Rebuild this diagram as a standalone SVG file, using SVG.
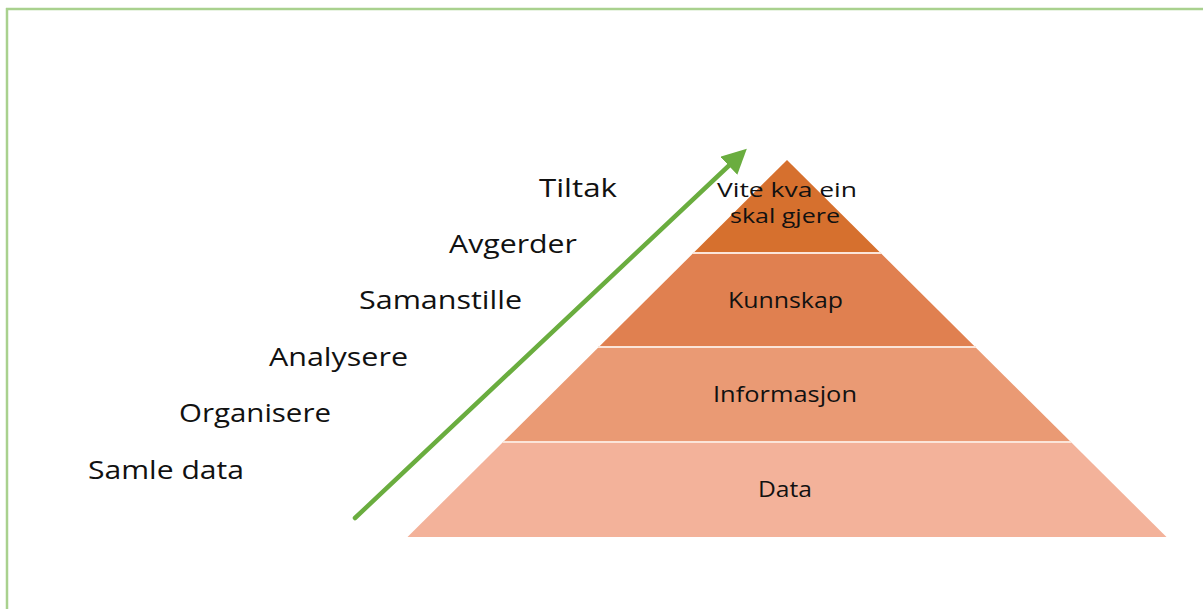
<svg xmlns="http://www.w3.org/2000/svg" width="1203" height="609" viewBox="0 0 1203 609">
  <style>
    .lbl { font-family: "Open Sans", "Noto Sans", "DejaVu Sans", sans-serif; font-size: 25px; fill: #111; }
    .pt { font-family: "Open Sans", "Noto Sans", "DejaVu Sans", sans-serif; font-size: 21px; fill: #111; text-anchor: middle; }
    .pt2 { font-family: "Open Sans", "Noto Sans", "DejaVu Sans", sans-serif; font-size: 20px; fill: #111; text-anchor: middle; }
    .frame { stroke: #a9d18e; stroke-width: 2.5; fill: none; }
    .gap { stroke: #fbe5d9; stroke-width: 2; }
  </style>
  <defs>
    <marker id="ah" markerWidth="5.5" markerHeight="5.5" refX="2.5" refY="2.75" orient="auto" markerUnits="strokeWidth">
      <path d="M0,0 L5.5,2.75 L0,5.5 Z" fill="#6aad3f"/>
    </marker>
  </defs>
  <rect width="1203" height="609" fill="#ffffff"/>
  <g id="frame">
    <line class="frame" x1="6" y1="9" x2="1203" y2="9"/>
    <line class="frame" x1="7" y1="8" x2="7" y2="609"/>
  </g>
  <g id="labels">
    <text id="t-tiltak" class="lbl" x="539" y="197" textLength="78" lengthAdjust="spacingAndGlyphs">Tiltak</text>
    <text id="t-avgerder" class="lbl" x="449" y="253" textLength="128" lengthAdjust="spacingAndGlyphs">Avgerder</text>
    <text id="t-samanstille" class="lbl" x="359" y="309" textLength="163" lengthAdjust="spacingAndGlyphs">Samanstille</text>
    <text id="t-analysere" class="lbl" x="269" y="366" textLength="139" lengthAdjust="spacingAndGlyphs">Analysere</text>
    <text id="t-organisere" class="lbl" x="179" y="422" textLength="152" lengthAdjust="spacingAndGlyphs">Organisere</text>
    <text id="t-samle" class="lbl" x="88" y="479" textLength="156" lengthAdjust="spacingAndGlyphs">Samle data</text>
  </g>
  <g id="pyramid">
    <g id="layer-data">
      <polygon points="503.1,442 1070.9,442 1166.5,537 407.5,537" fill="#f3b29a"/>
      <text class="pt" x="785" y="497" textLength="54" lengthAdjust="spacingAndGlyphs">Data</text>
    </g>
    <g id="layer-informasjon">
      <polygon points="598.8,347 975.2,347 1070.9,442 503.1,442" fill="#ea9a74"/>
      <text class="pt" x="785" y="402" textLength="144" lengthAdjust="spacingAndGlyphs">Informasjon</text>
    </g>
    <g id="layer-kunnskap">
      <polygon points="693.4,253 880.6,253 975.2,347 598.8,347" fill="#e08050"/>
      <text class="pt" x="785.5" y="308" textLength="115" lengthAdjust="spacingAndGlyphs">Kunnskap</text>
    </g>
    <g id="layer-vite">
      <polygon points="787,160 880.6,253 693.4,253" fill="#d6702e"/>
      <text class="pt2" x="787" y="197" textLength="140" lengthAdjust="spacingAndGlyphs">Vite kva ein</text>
      <text class="pt2" x="785" y="223" textLength="110" lengthAdjust="spacingAndGlyphs">skal gjere</text>
    </g>
    <g id="gaps">
      <line class="gap" x1="693" y1="253" x2="881" y2="253"/>
      <line class="gap" x1="598" y1="347" x2="976" y2="347"/>
      <line class="gap" x1="503" y1="442" x2="1071" y2="442"/>
    </g>
  </g>
  <g id="connectors">
    <line x1="355" y1="518" x2="737" y2="158" stroke="#6aad3f" stroke-width="4.5" stroke-linecap="round" marker-end="url(#ah)"/>
  </g>
</svg>
